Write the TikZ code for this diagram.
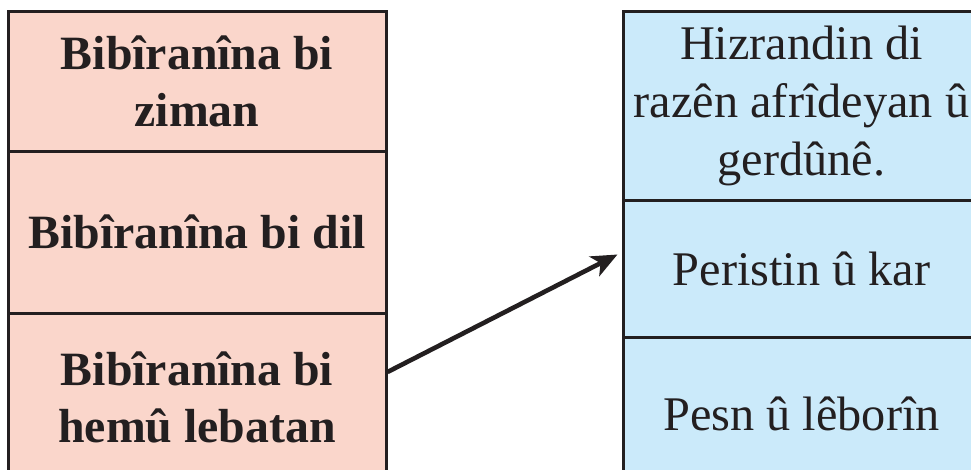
\documentclass[tikz,border=0pt]{standalone}
\usepackage{fontspec}
\setmainfont{Liberation Serif}
\usetikzlibrary{arrows.meta}
\definecolor{pinkfill}{HTML}{FAD6CB}
\definecolor{bluefill}{HTML}{CBEAFA}
\definecolor{ink}{HTML}{231F20}
\tikzset{
  cell/.style={draw=ink, line width=3pt, rectangle, inner sep=0pt, align=center, text=ink},
  lcell/.style={cell, fill=pinkfill, minimum width=378pt, font=\fontsize{47.8}{57}\selectfont\bfseries},
  rcell/.style={cell, fill=bluefill, minimum width=357pt, font=\fontsize{48.3}{58}\selectfont},
  link/.style={draw=ink, line width=4.6pt, -{Stealth[length=26pt,width=22pt,inset=7pt]}}
}
\begin{document}
\begin{tikzpicture}[x=1pt,y=-1pt]
\useasboundingbox (0,0) rectangle (971,469);
\begin{scope}
\clip (0,0) rectangle (971,469);
\node[lcell, minimum height=140pt] (L1) at (197,81) {Bibîranîna bi\\ziman};
\node[lcell, minimum height=162pt] (L2) at (197,232) {Bibîranîna bi dil};
\node[lcell, minimum height=168pt] (L3) at (197,397) {Bibîranîna bi\\hemû lebatan};
\node[rcell, minimum height=189pt] (R1) at (801.5,105.5) {Hizrandin di\\razên afrîdeyan û\\gerdûnê.};
\node[rcell, minimum height=137pt] (R2) at (801.5,268.5) {Peristin û kar};
\node[rcell, minimum height=153pt] (R3) at (801.5,413.5) {Pesn û lêborîn};
\end{scope}
\draw[link] ([yshift=25pt]L3.east) -- ([xshift=-4pt,yshift=14pt]R2.west);
\end{tikzpicture}
\end{document}
